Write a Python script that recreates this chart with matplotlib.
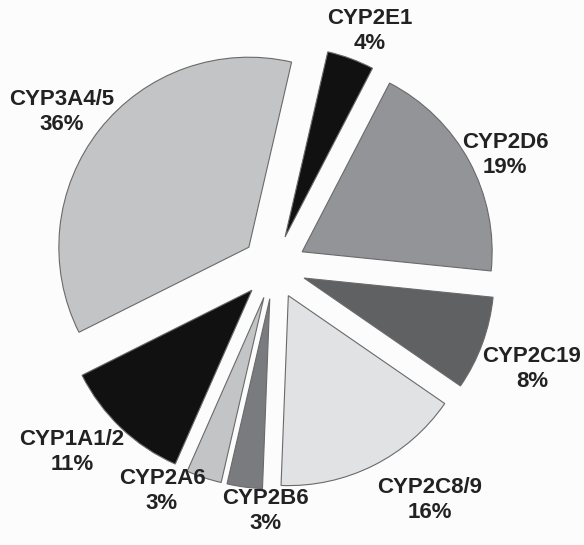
"""
Exploded pie of CYP enzyme shares
"""

import matplotlib.pyplot as plt

enzymes = ["CYP2E1", "CYP2D6", "CYP2C19", "CYP2C8/9",
           "CYP2B6", "CYP2A6", "CYP1A1/2", "CYP3A4/5"]
shares = [4, 19, 8, 16, 3, 3, 11, 36]

colors = ["#111111", "#939498", "#606163", "#e1e2e4",
          "#7a7b7e", "#c3c4c6", "#111111", "#c3c4c6"]
# label anchors in pixels relative to pie centre
label_offsets = [(96, 236), (231, 112), (258, -102), (156, -233),
                 (-9, -244), (-112, -224), (-202, -185), (-212, 155)]


def main():
    fig = plt.figure(figsize=(5.84, 5.45), dpi=100, facecolor="#fcfcfc")
    ax = fig.add_axes([0, 0, 1, 1])
    ax.set_facecolor("#fcfcfc")

    cx, cy = 274, 545 - 267
    ax.pie(shares, colors=colors, startangle=77, counterclock=False,
           radius=190, center=(cx, cy), explode=[32] * len(shares),
           wedgeprops=dict(edgecolor="#6a6a6a", linewidth=0.8))
    ax.set_xlim(0, 584)
    ax.set_ylim(0, 545)
    ax.set_aspect("auto")
    ax.axis("off")

    for name, val, (dx, dy) in zip(enzymes, shares, label_offsets):
        ax.text(cx + dx, cy + dy, f"{name}\n{val}%", ha="center", va="center",
                fontsize=16, fontweight="bold", color="#222222",
                family="Liberation Sans", linespacing=1.2)

    fig.savefig("out.png", dpi=100, facecolor=fig.get_facecolor())


if __name__ == "__main__":
    main()
